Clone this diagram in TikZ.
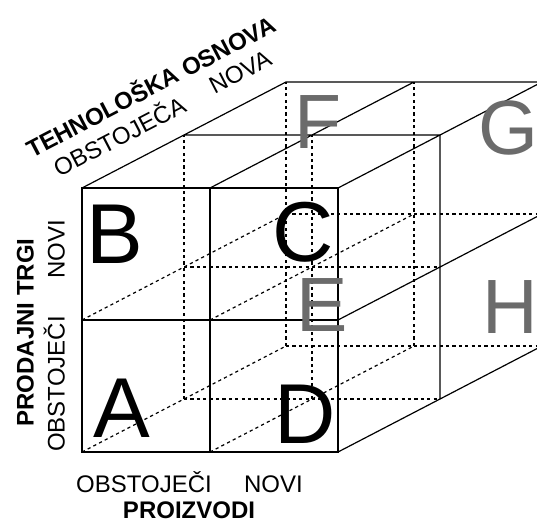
\documentclass[tikz,border=0pt]{standalone}
\usepackage{fontspec}
\setmainfont{Liberation Sans}
\definecolor{letgray}{RGB}{107,107,107}
\tikzset{
  edge/.style={line width=1.2pt, line cap=round},
  hidden/.style={line width=1.2pt, dash pattern=on 3.2pt off 3.2pt},
  lbl/.style={font=\fontsize{24}{24}\selectfont, inner sep=0pt, text height=17.2pt, text depth=0pt},
  blbl/.style={lbl, font=\fontsize{24}{24}\selectfont\bfseries},
  bigblack/.style={font=\fontsize{85}{85}\selectfont, inner sep=0pt, text height=61pt, text depth=0pt},
  biggray/.style={font=\fontsize{77}{77}\selectfont, text=letgray, inner sep=0pt, text height=55pt, text depth=0pt},
}
\begin{document}
\begin{tikzpicture}[x=1pt,y=-1pt]
\path[use as bounding box] (0,0) rectangle (537,522);
\clip (0,0) rectangle (537,522);
\foreach \i in {0,1,2} \foreach \j in {0,1,2} \foreach \k in {0,1,2}
  \coordinate (p\i\j\k) at ({82+128*\i+102*\k},{452-132*\j-53*\k});
% hidden edges
\draw[hidden] (p000)--(p002) (p100)--(p102) (p010)--(p012) (p110)--(p112);
\foreach \k in {1,2}{
  \draw[hidden] (p00\k)--(p02\k) (p10\k)--(p12\k) (p00\k)--(p20\k) (p01\k)--(p21\k);
}
% front face
\draw[edge] (p000)--(p200)--(p220)--(p020)--cycle;
\draw[edge] (p100)--(p120) (p010)--(p210);
% top face
\draw[edge] (p020)--(p022) (p120)--(p122) (p220)--(p222) (p021)--(p221) (p022)--(p222);
% right face
\draw[edge] (p200)--(p202) (p210)--(p212) (p201)--(p221) (p202)--(p222);
% letters
\node[bigblack] (A) at (122,406.5) {A};
\node[bigblack] (B) at (115,233) {B};
\node[bigblack] (C) at (303,231) {C};
\node[bigblack] (D) at (305,412.5) {D};
\node[biggray] (E) at (322.5,303.5) {E};
\node[biggray] (F) at (318.5,121) {F};
\node[biggray] (G) at (508,127) {G};
\node[biggray] (H) at (510,305.5) {H};
% labels
\node[lbl] (pex) at (144,484) {OBSTOJEČI};
\node[lbl] (pnew) at (273.5,484) {NOVI};
\node[blbl] (ptitle) at (189,509.5) {PROIZVODI};
\node[lbl, rotate=90] (mex) at (56,384) {OBSTOJEČI};
\node[lbl, rotate=90] (mnew) at (56,249.5) {NOVI};
\node[blbl, rotate=90] (mtitle) at (25,332.5) {PRODAJNI TRGI};
\node[lbl, rotate=27.46] (tex) at (119.5,136.5) {OBSTOJEČA};
\node[lbl, rotate=27.46] (tnew) at (240,72) {NOVA};
\node[blbl, rotate=27.46] (ttitle) at (151,87) {TEHNOLOŠKA OSNOVA};
\end{tikzpicture}
\end{document}
